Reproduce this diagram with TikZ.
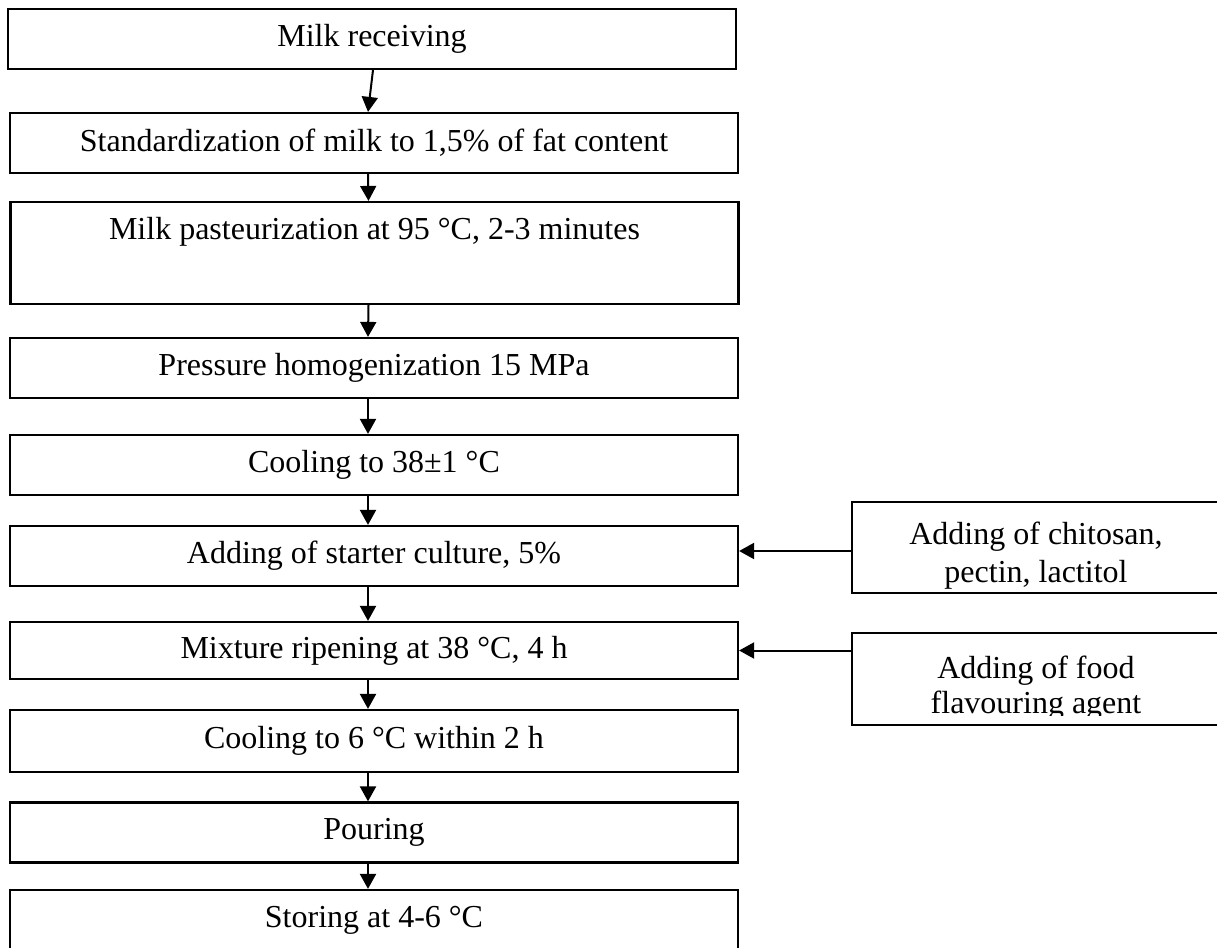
\documentclass[tikz,border=0pt]{standalone}
\usepackage{fontspec}
\setmainfont{Liberation Serif}
\usetikzlibrary{arrows.meta}

\tikzset{
  stepbox/.style={draw, line width=1.1pt, rectangle, inner sep=0pt,
    minimum width=364pt, minimum height=30pt,
    font=\fontsize{16}{18}\selectfont},
  sidebox/.style={draw, line width=1.1pt, rectangle, inner sep=0pt,
    minimum width=184pt, minimum height=46pt, align=center,
    font=\fontsize{16}{18.5}\selectfont},
  flow/.style={line width=1pt, -{Triangle[width=8pt,length=7.5pt]}}
}

\begin{document}
\begin{tikzpicture}[x=0.5pt, y=-0.5pt]
        \useasboundingbox (0,0) rectangle (1217,948);

        % Main process steps
        \node[stepbox, minimum width=364pt] (receive) at (372,39) {Milk receiving};
        \node[stepbox] (standard) at (374,143) {Standardization of milk to 1,5\% of fat content};
        \node[stepbox, minimum height=51pt,
              label={[anchor=center, yshift=-15.5pt]north:{\fontsize{16}{18}\selectfont Milk pasteurization at 95 °C, 2-3 minutes}}]
              (pasteur) at (374.5,253) {};
        \node[stepbox] (homog) at (374,368) {Pressure homogenization 15 MPa};
        \node[stepbox] (cool) at (374,465) {Cooling to 38±1 °C};
        \node[stepbox] (starter) at (374,556) {Adding of starter culture, 5\%};
        \node[stepbox, minimum height=28.5pt] (ripen) at (374,650.5) {Mixture ripening at 38 °C, 4 h};
        \node[stepbox, minimum height=31pt] (chill) at (374,741) {Cooling to 6 °C within 2 h};
        \node[stepbox] (pour) at (374,832.5) {Pouring};
        \node[stepbox] (store) at (374,920) {Storing at 4-6 °C};

        % Side additions
        \node[sidebox, minimum height=45.5pt] (chitosan) at (1036,547.5) {};
        \node[align=center, font=\fontsize{16}{19}\selectfont] (chitosantxt) at (1036,556) {Adding of chitosan,\\pectin, lactitol};
        \node[sidebox] (flavour) at (1036,679) {};
        \begin{scope}
            \clip (852,633) rectangle (1220,715);
            \node[align=center, font=\fontsize{16}{17.5}\selectfont] (flavourtxt) at (1036,688) {Adding of food\\flavouring agent};
        \end{scope}

        % Arrows down the line
        \draw[flow] ([xshift=0.5pt]receive.south) -- ([xshift=-3pt]standard.north);
        \draw[flow] ([xshift=-3pt]standard.south) -- ([xshift=-3pt]pasteur.north);
        \draw[flow] ([xshift=-3pt]pasteur.south) -- ([xshift=-3pt]homog.north);
        \draw[flow] ([xshift=-3pt]homog.south) -- ([xshift=-3pt]cool.north);
        \draw[flow] ([xshift=-3pt]cool.south) -- ([xshift=-3pt]starter.north);
        \draw[flow] ([xshift=-3pt]starter.south) -- ([xshift=-3pt]ripen.north);
        \draw[flow] ([xshift=-3pt]ripen.south) -- ([xshift=-3pt]chill.north);
        \draw[flow] ([xshift=-3pt]chill.south) -- ([xshift=-3pt]pour.north);
        \draw[flow] ([xshift=-3pt]pour.south) -- ([xshift=-3pt]store.north);

        % Arrows from the additions
        \draw[flow] ([yshift=-1.75pt]chitosan.west) -- ([yshift=-1.75pt]chitosan.west -| starter.east);
        \draw[flow] (flavour.west |- ripen.east) -- (ripen.east);

    \end{tikzpicture}
\end{document}
